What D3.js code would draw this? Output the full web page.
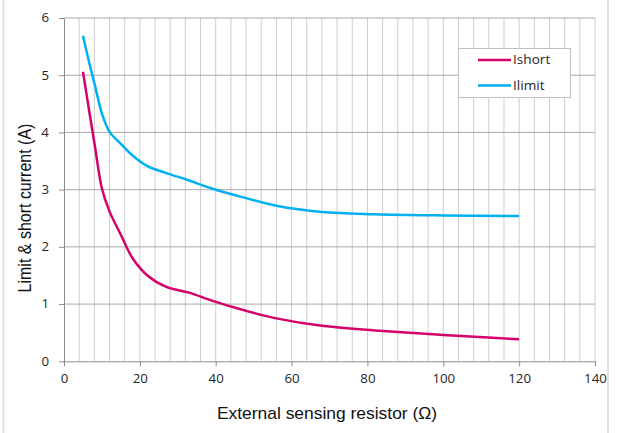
<html>
    <head>
        <title>Limit and short current</title>
        <script type="text/javascript" src="https://cdn.jsdelivr.net/npm/d3@7"></script>
        <style>
            body { margin: 0; background: #fff; }
            .tick text { font-family: "Open Sans", sans-serif; font-size: 12.2px; fill: #262626;
                         transform-box: fill-box; transform: scaleX(1.09); }
            .xaxis .tick text { transform-origin: center; }
            .yaxis .tick text { transform-origin: right center; }
            .legend text { transform-box: fill-box; transform-origin: left center; transform: scaleX(1.09); }
        </style>
    </head>
    <body>
        <script type="text/javascript">
            // resistor values (ohm) and the two currents (A)
            let resistor = [5, 6.8, 8.2, 10, 12, 15, 18, 22, 27, 33, 39, 47, 56, 68, 82, 100, 120]
            let ishort = [5.06, 4.31, 3.74, 3.02, 2.62, 2.21, 1.81, 1.50, 1.30, 1.20, 1.06, 0.90, 0.75, 0.62, 0.54, 0.46, 0.385]
            let ilimit = [5.69, 5.18, 4.81, 4.33, 4.01, 3.80, 3.60, 3.41, 3.29, 3.16, 3.02, 2.87, 2.72, 2.61, 2.57, 2.55, 2.54]
            let series_names = ["Ishort", "Ilimit"]
            let x_ticks = [0, 20, 40, 60, 80, 100, 120, 140]
            let y_ticks = [0, 1, 2, 3, 4, 5, 6]

            let w = 624
            let h = 433
            let colors = ["#d4006c", "#00b0f0"]

            let svg = d3.select("body")
                        .append("svg")
                        .attr("width", w)
                        .attr("height", h)

            // chart area border, left and right edges only visible
            svg.append("line").attr("x1", 3.5).attr("x2", 3.5).attr("y1", 0).attr("y2", h)
               .attr("stroke", "#d3d7de").attr("stroke-width", 1.5)
            svg.append("line").attr("x1", 608).attr("x2", 608).attr("y1", 0).attr("y2", h)
               .attr("stroke", "#d3d7de").attr("stroke-width", 1.5)

            let x_scale = d3.scaleLinear().domain([0, 140]).range([64, 595])
            let y_scale = d3.scaleLinear().domain([0, 6]).range([361.3, 18])

            // vertical grid every 4 ohm
            svg.append("g")
               .selectAll("line")
               .data(d3.range(4, 141, 4))
               .enter()
               .append("line")
               .attr("x1", (d) => x_scale(d)).attr("x2", (d) => x_scale(d))
               .attr("y1", y_scale(6)).attr("y2", y_scale(0))
               .attr("stroke", "#cdcdcd").attr("stroke-width", 1)

            // horizontal grid
            svg.append("g")
               .selectAll("line")
               .data(y_ticks.slice(1))
               .enter()
               .append("line")
               .attr("x1", x_scale(0)).attr("x2", x_scale(140))
               .attr("y1", (d) => y_scale(d)).attr("y2", (d) => y_scale(d))
               .attr("stroke", "#a9a9a9").attr("stroke-width", 1)

            let x_axis = d3.axisBottom(x_scale).tickValues(x_ticks).tickSize(5).tickPadding(8).tickSizeOuter(0)
            let gx = svg.append("g")
               .attr("class", "xaxis")
               .attr("transform", "translate(0," + y_scale(0) + ")")
               .call(x_axis)
            gx.selectAll("line, path").attr("stroke", "#8c8c8c")

            let y_axis = d3.axisLeft(y_scale).tickValues(y_ticks).tickFormat(d3.format("d"))
                           .tickSize(5).tickPadding(10).tickSizeOuter(0)
            let gy = svg.append("g")
               .attr("class", "yaxis")
               .attr("transform", "translate(" + x_scale(0) + ",0)")
               .call(y_axis)
            gy.selectAll("line, path").attr("stroke", "#8c8c8c")

            let line = d3.line()
                         .x((d) => x_scale(d[0]))
                         .y((d) => y_scale(d[1]))
                         .curve(d3.curveCatmullRom.alpha(0.5))

            let all_series = [ishort, ilimit]
            for (let i = 0; i < all_series.length; i++) {
                svg.append("path")
                   .datum(resistor.map((r, j) => [r, all_series[i][j]]))
                   .attr("fill", "none")
                   .attr("stroke", colors[i])
                   .attr("stroke-width", 2.5)
                   .attr("d", line)
            }

            // legend
            let legend = svg.append("g").attr("class", "legend")
            legend.append("rect")
                  .attr("x", 458.5).attr("y", 48.5).attr("width", 112).attr("height", 49)
                  .attr("fill", "#fff").attr("stroke", "#bfbfbf")
            for (let i = 0; i < series_names.length; i++) {
                let ly = 60 + i * 25.5
                legend.append("line")
                      .attr("x1", 478).attr("x2", 511).attr("y1", ly).attr("y2", ly)
                      .attr("stroke", colors[i]).attr("stroke-width", 2.5)
                legend.append("text")
                      .attr("x", 513).attr("y", ly + 4.5)
                      .attr("font-family", "Open Sans, sans-serif")
                      .attr("font-size", "12.5px")
                      .attr("fill", "#262626")
                      .text(series_names[i])
            }

            // axis titles (the picture is slightly stretched sideways)
            svg.append("text")
               .attr("transform", "translate(327,419) scale(1.09,1)")
               .attr("text-anchor", "middle")
               .attr("font-family", "Liberation Sans, Arial, sans-serif")
               .attr("font-size", "16px")
               .attr("fill", "#111")
               .text("External sensing resistor (Ω)")

            svg.append("text")
               .attr("transform", "translate(31,208) scale(1.09,1) rotate(-90)")
               .attr("text-anchor", "middle")
               .attr("font-family", "Liberation Sans, Arial, sans-serif")
               .attr("font-size", "16px")
               .attr("fill", "#111")
               .text("Limit & short current (A)")
        </script>
    </body>
</html>
